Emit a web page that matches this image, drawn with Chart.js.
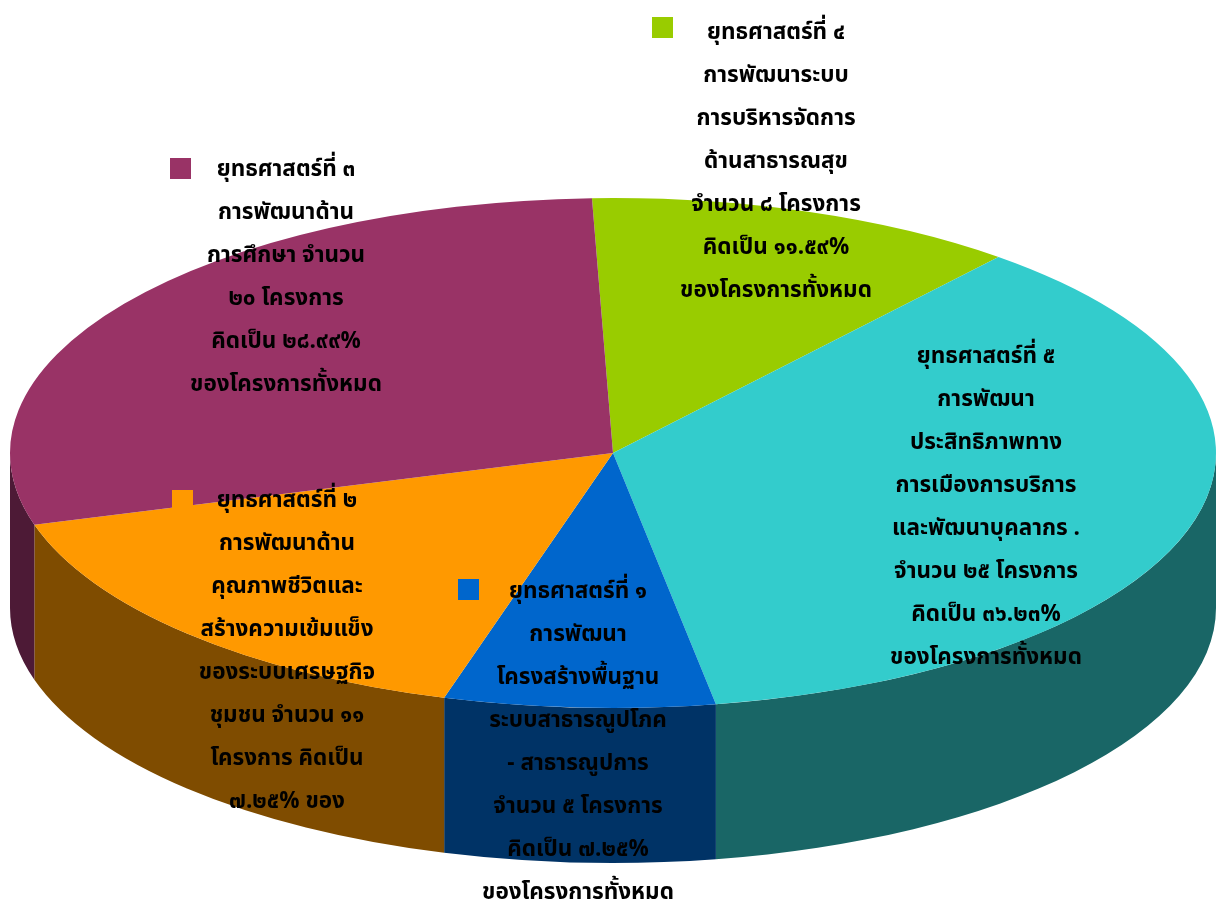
<!DOCTYPE html>
<html>
<head>
<meta charset="utf-8">
<script src="https://cdn.jsdelivr.net/npm/chart.js@4.4.1/dist/chart.umd.min.js"></script>
<style>
  html, body { margin: 0; padding: 0; background: #fff; }
  #wrap { width: 1224px; height: 900px; position: relative; }
</style>
</head>
<body>
<div id="wrap"><canvas id="myChart"></canvas></div>
<script>
// slices in drawing order, clockwise from the top
const categories = ['ยุทธศาสตร์ที่ ๔', 'ยุทธศาสตร์ที่ ๕', 'ยุทธศาสตร์ที่ ๑', 'ยุทธศาสตร์ที่ ๒', 'ยุทธศาสตร์ที่ ๓'];
const projects = [8, 25, 5, 11, 20];

const labelLines = [
  ['ยุทธศาสตร์ที่ ๔', 'การพัฒนาระบบ', 'การบริหารจัดการ', 'ด้านสาธารณสุข', 'จำนวน ๘ โครงการ', 'คิดเป็น ๑๑.๕๙%', 'ของโครงการทั้งหมด'],
  ['ยุทธศาสตร์ที่ ๕', 'การพัฒนา', 'ประสิทธิภาพทาง', 'การเมืองการบริการ', 'และพัฒนาบุคลากร .', 'จำนวน ๒๕ โครงการ', 'คิดเป็น ๓๖.๒๓%', 'ของโครงการทั้งหมด'],
  ['ยุทธศาสตร์ที่ ๑', 'การพัฒนา', 'โครงสร้างพื้นฐาน', 'ระบบสาธารณูปโภค', '- สาธารณูปการ', 'จำนวน ๕ โครงการ', 'คิดเป็น ๗.๒๕%', 'ของโครงการทั้งหมด'],
  ['ยุทธศาสตร์ที่ ๒', 'การพัฒนาด้าน', 'คุณภาพชีวิตและ', 'สร้างความเข้มแข็ง', 'ของระบบเศรษฐกิจ', 'ชุมชน จำนวน ๑๑', 'โครงการ คิดเป็น', '๗.๒๕% ของ'],
  ['ยุทธศาสตร์ที่ ๓', 'การพัฒนาด้าน', 'การศึกษา จำนวน', '๒๐ โครงการ', 'คิดเป็น ๒๘.๙๙%', 'ของโครงการทั้งหมด']
];

const topColors = ['#99cc00', '#33cccc', '#0066cc', '#ff9900', '#993366'];
const sideColors = ['#4d6600', '#196666', '#003366', '#7f4c00', '#4d1a36'];

// label placement: text centre x, first line y, legend key x/y
const labelLayout = [
  { x: 776, y: 34, kx: 652, ky: 17 },
  { x: 986, y: 358, kx: 866, ky: 346 },
  { x: 578, y: 593, kx: 458, ky: 579 },
  { x: 287, y: 502, kx: 172, ky: 490 },
  { x: 286, y: 171, kx: 170, ky: 158 }
];
const lineHeight = 43;
const squash = 255 / 603;  // ellipse ry / rx
const depth = 155;

const pie3d = {
  id: 'pie3d',
  beforeDatasetsDraw(chart) {
    const ctx = chart.ctx;
    const arcs = chart.getDatasetMeta(0).data;
    const cx = arcs[0].x, cy = arcs[0].y;
    const rx = arcs[0].outerRadius, ry = rx * squash;
    ctx.save();
    // side walls, only the front half is visible
    arcs.forEach((arc, i) => {
      const a = Math.max(arc.startAngle, 0);
      const b = Math.min(arc.endAngle, Math.PI);
      if (a >= b) return;
      ctx.beginPath();
      ctx.ellipse(cx, cy, rx, ry, 0, a, b);
      ctx.ellipse(cx, cy + depth, rx, ry, 0, b, a, true);
      ctx.closePath();
      ctx.fillStyle = sideColors[i];
      ctx.fill();
    });
    // flatten the top face into an ellipse
    ctx.translate(cx, cy);
    ctx.scale(1, squash);
    ctx.translate(-cx, -cy);
  },
  afterDatasetsDraw(chart) {
    chart.ctx.restore();
  },
  afterDraw(chart) {
    const ctx = chart.ctx;
    ctx.save();
    ctx.font = 'bold 22.5px Tahoma, "Noto Sans Thai", "Noto Sans", sans-serif';
    ctx.textAlign = 'center';
    ctx.textBaseline = 'middle';
    labelLines.forEach((lines, i) => {
      const p = labelLayout[i];
      ctx.fillStyle = topColors[i];
      ctx.fillRect(p.kx, p.ky, 21, 21);
      ctx.fillStyle = '#000';
      lines.forEach((t, j) => ctx.fillText(t, p.x, p.y + j * lineHeight));
    });
    ctx.restore();
  }
};

const ctx = document.getElementById('myChart').getContext('2d');
const myChart = new Chart(ctx, {
  type: 'pie',
  data: {
    labels: categories,
    datasets: [{
      data: projects,
      backgroundColor: topColors,
      borderWidth: 0,
      clip: false
    }]
  },
  options: {
    responsive: true,
    maintainAspectRatio: false,
    animation: false,
    radius: 603,
    rotation: -2,
    layout: { padding: { top: 6, left: 2 } },
    plugins: {
      legend: { display: false },
      tooltip: { enabled: false }
    }
  },
  plugins: [pie3d]
});
</script>
</body>
</html>
